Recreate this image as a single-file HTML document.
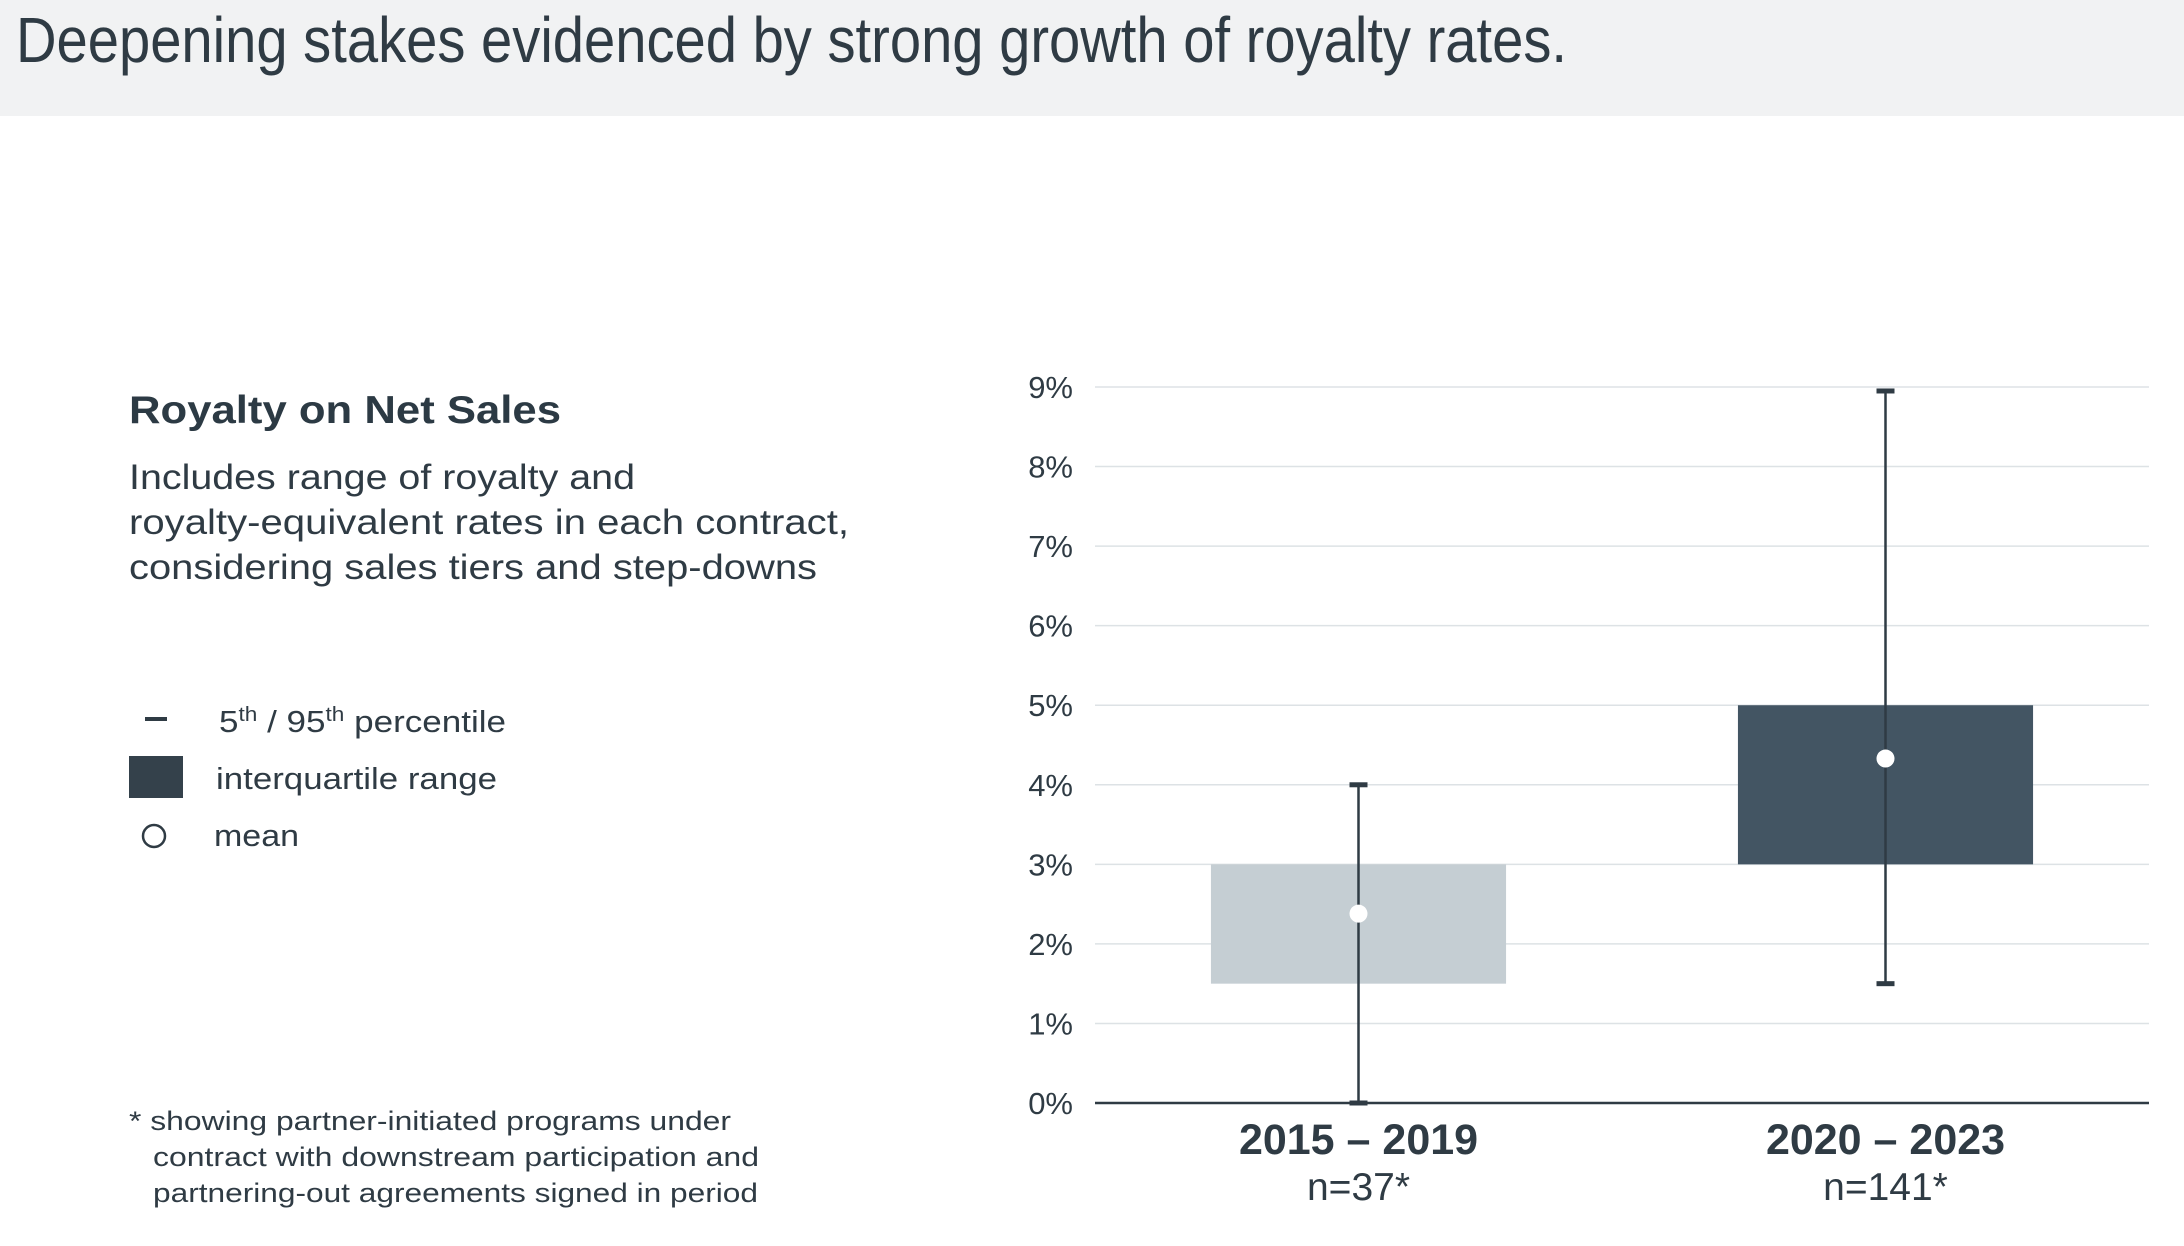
<!DOCTYPE html>
<html><head><meta charset="utf-8"><style>
html,body{margin:0;padding:0;background:#fff}
svg{display:block}
text{font-family:"Liberation Sans",sans-serif;fill:#2f3b44}
</style></head><body>
<svg width="2184" height="1246" viewBox="0 0 2184 1246">
<rect x="0" y="0" width="2184" height="116" fill="#f1f2f3"/>
<text x="16" y="62" font-size="64" textLength="1551" lengthAdjust="spacingAndGlyphs">Deepening stakes evidenced by strong growth of royalty rates.</text>

<text x="129" y="423" font-size="39" font-weight="bold" textLength="432" lengthAdjust="spacingAndGlyphs" style="fill:#2c3a44">Royalty on Net Sales</text>
<g font-size="35">
<text x="129" y="489" textLength="506" lengthAdjust="spacingAndGlyphs">Includes range of royalty and</text>
<text x="129" y="534" textLength="720" lengthAdjust="spacingAndGlyphs">royalty-equivalent rates in each contract,</text>
<text x="129" y="579" textLength="688" lengthAdjust="spacingAndGlyphs">considering sales tiers and step-downs</text>
</g>

<g>
<rect x="145" y="717" width="22" height="4" fill="#2f3b44"/>
<text x="219" y="732" font-size="31" textLength="287" lengthAdjust="spacingAndGlyphs">5<tspan font-size="20" dy="-11">th</tspan><tspan dy="11"> / 95</tspan><tspan font-size="20" dy="-11">th</tspan><tspan dy="11"> percentile</tspan></text>
<rect x="129" y="756" width="54" height="42" fill="#34414b"/>
<text x="216" y="789" font-size="31" textLength="281" lengthAdjust="spacingAndGlyphs">interquartile range</text>
<circle cx="154" cy="836" r="11" fill="none" stroke="#2f3b44" stroke-width="2.5"/>
<text x="214" y="846" font-size="31" textLength="85" lengthAdjust="spacingAndGlyphs">mean</text>
</g>

<g font-size="27">
<text x="129" y="1130" textLength="602" lengthAdjust="spacingAndGlyphs">* showing partner-initiated programs under</text>
<text x="153" y="1166" textLength="606" lengthAdjust="spacingAndGlyphs">contract with downstream participation and</text>
<text x="153" y="1202" textLength="605" lengthAdjust="spacingAndGlyphs">partnering-out agreements signed in period</text>
</g>

<g id="chart"></g>
</svg>
<script>
const categories = ["2015 – 2019", "2020 – 2023"];
const sampleLabels = ["n=37*", "n=141*"];
const q1Values = [1.5, 3.0];
const q3Values = [3.0, 5.0];
const p5Values = [0.0, 1.5];
const p95Values = [4.0, 8.95];
const meanValues = [2.38, 4.33];
const boxColors = ["#c5ced3", "#435563"];
const yTicks = [0,1,2,3,4,5,6,7,8,9];

const NS = "http://www.w3.org/2000/svg";
const g = document.getElementById("chart");
const X0 = 1095, X1 = 2149, Y0 = 1103, Y9 = 387;
const y = v => Y0 - (v / 9) * (Y0 - Y9);
const band = (X1 - X0) / categories.length;
const xc = i => X0 + band * (i + 0.5);
const bw = band * 0.56;
function mk(tag, attrs) {
  const e = document.createElementNS(NS, tag);
  for (const k in attrs) e.setAttribute(k, attrs[k]);
  g.appendChild(e);
  return e;
}
yTicks.forEach(t => {
  if (t > 0) {
    const l = mk("line", {x1: X0, x2: X1, y1: y(t), y2: y(t), stroke: "#dde2e5", "stroke-width": 1.5});
    
    
  }
  const tx = mk("text", {x: 1073, y: y(t) + 11, "text-anchor": "end", "font-size": 31});
  tx.textContent = t + "%";
  
  
});
categories.forEach((c, i) => {
  const cx = xc(i);
  const r = mk("rect", {x: cx - bw / 2, y: y(q3Values[i]), width: bw, height: y(q1Values[i]) - y(q3Values[i]), fill: boxColors[i]});
  
  
  const w = mk("line", {x1: cx, x2: cx, y1: y(p95Values[i]), y2: y(p5Values[i]), stroke: "#2f3b44", "stroke-width": 2.5});
  
  
  [p5Values[i], p95Values[i]].forEach(v => {
    const cap = mk("rect", {x: cx - 9, y: y(v) - 2.5, width: 18, height: 5, fill: "#2f3b44"});
    
    
  });
  const m = mk("circle", {cx: cx, cy: y(meanValues[i]), r: 9, fill: "#fff"});
  
  
  const lab = mk("text", {x: cx, y: 1154, "text-anchor": "middle", "font-size": 43, "font-weight": "bold"});
  lab.textContent = c;
  
  
  const n = mk("text", {x: cx, y: 1200, "text-anchor": "middle", "font-size": 39});
  n.textContent = sampleLabels[i];
  
  
});
const ax = mk("line", {x1: X0, x2: X1, y1: Y0, y2: Y0, stroke: "#2f3b44", "stroke-width": 2.5});


</script>
</body></html>
